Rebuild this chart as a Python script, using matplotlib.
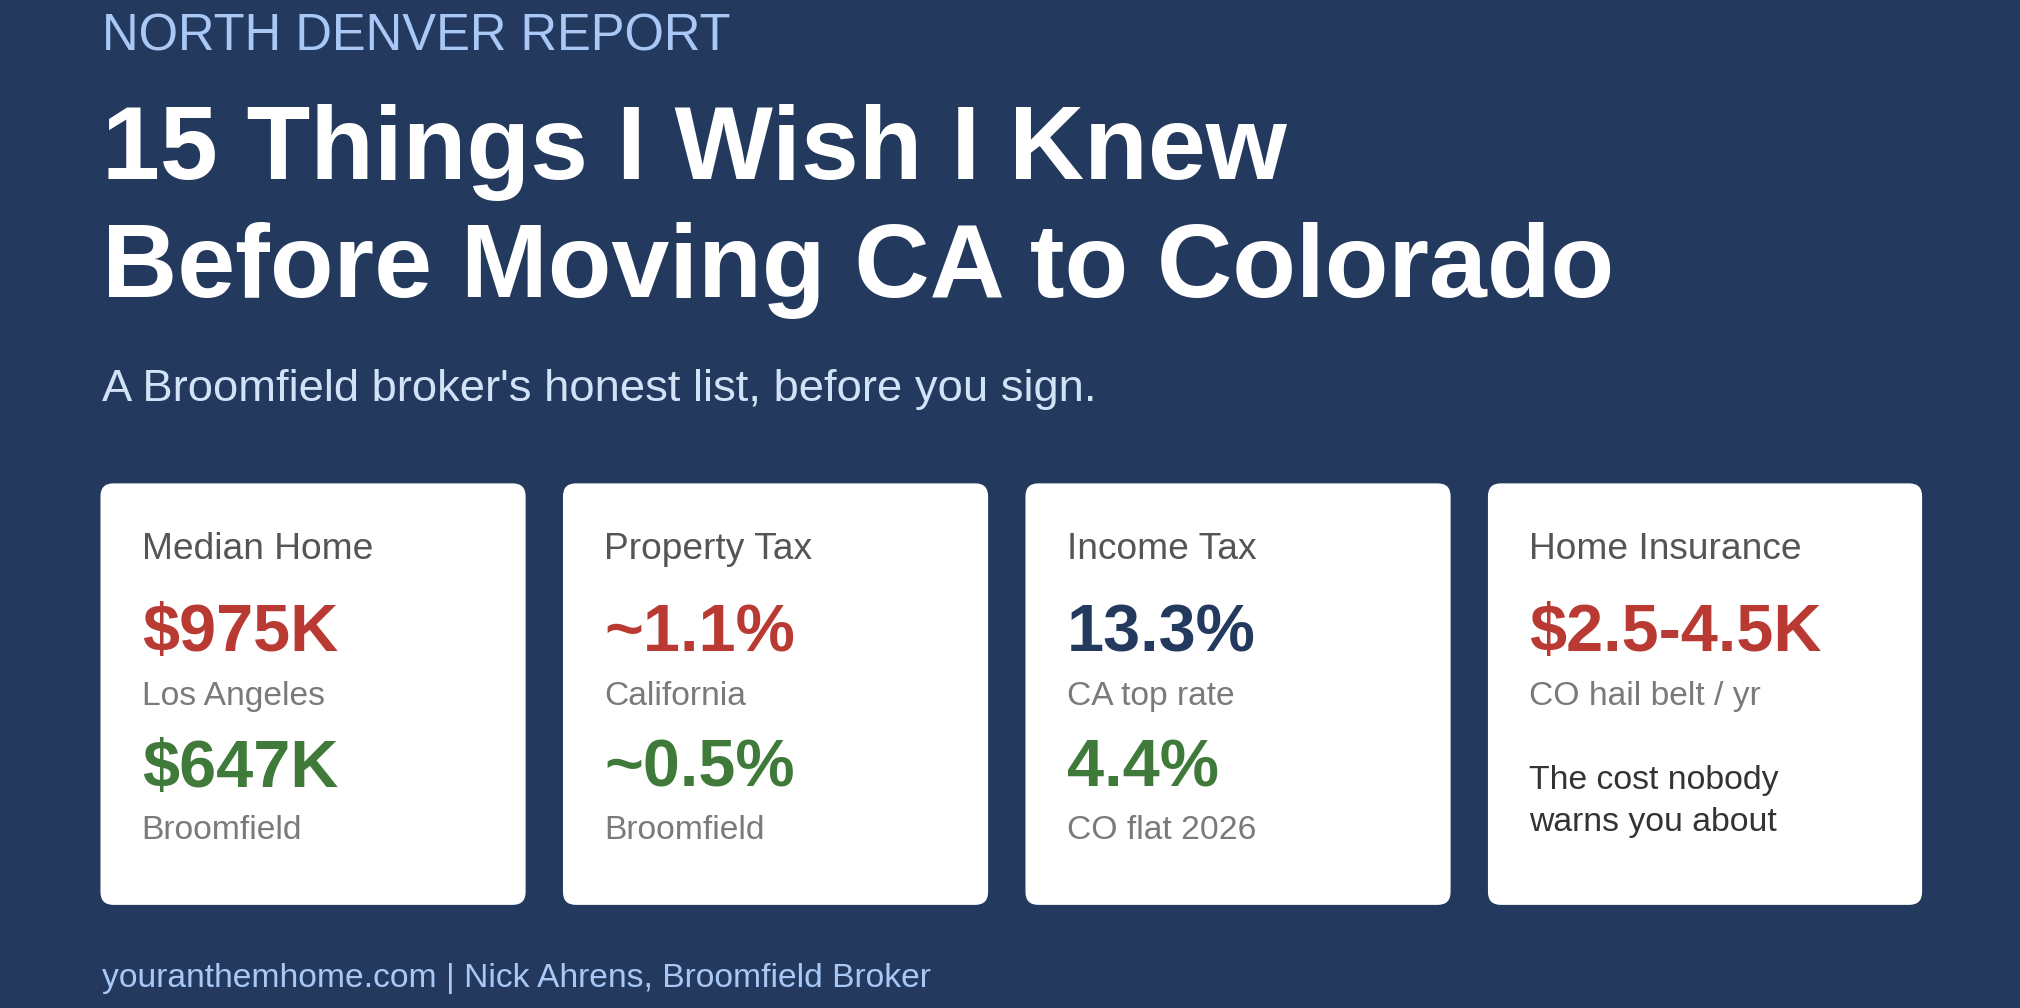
import matplotlib
matplotlib.use("Agg")
import matplotlib.pyplot as plt
from matplotlib.patches import FancyBboxPatch

plt.rcParams['font.family'] = ['Liberation Sans', 'DejaVu Sans']

BG = '#233a5e'
RED = '#b83a32'
GREEN = '#3f7a3a'
NAVY = '#233a5e'

header = "NORTH DENVER REPORT"
title_lines = ["15 Things I Wish I Knew", "Before Moving CA to Colorado"]
subtitle = "A Broomfield broker's honest list, before you sign."
footer = "youranthemhome.com | Nick Ahrens, Broomfield Broker"

card_titles = ["Median Home", "Property Tax", "Income Tax", "Home Insurance"]
card_val1 = ["$975K", "~1.1%", "13.3%", "$2.5-4.5K"]
card_lab1 = ["Los Angeles", "California", "CA top rate", "CO hail belt / yr"]
card_val2 = ["$647K", "~0.5%", "4.4%", None]
card_lab2 = ["Broomfield", "Broomfield", "CO flat 2026", None]
card_note = [None, None, None, "The cost nobody\nwarns you about"]
val1_colors = [RED, RED, NAVY, RED]
val2_colors = [GREEN, GREEN, GREEN, None]

W, H = 1568, 782
fig = plt.figure(figsize=(20.2, 10.08), dpi=100, facecolor=BG)
ax = fig.add_axes([0, 0, 1, 1])
ax.set_xlim(0, W); ax.set_ylim(H, 0); ax.axis('off')
ax.set_facecolor(BG)

ax.text(79, 29, header, color='#a9c8f5', fontsize=36.5, va='center', ha='left')
ax.text(79, 118, title_lines[0], color='white', fontsize=75, fontweight='bold', va='center')
ax.text(79, 210, title_lines[1], color='white', fontsize=75, fontweight='bold', va='center')
ax.text(79, 302, subtitle, color='#d2e2f7', fontsize=32.7, va='center')

xs = [78, 437, 796, 1155]
ws = [330, 330, 330, 337]
y0, h = 375, 327
for i in range(4):
    ax.add_patch(FancyBboxPatch((xs[i], y0), ws[i], h,
                                boxstyle="round,pad=0,rounding_size=10",
                                fc='white', ec='none', mutation_aspect=1))
    x = xs[i] + 32
    ax.text(x, 426, card_titles[i], color='#555555', fontsize=26.7, va='center')
    ax.text(x, 492, card_val1[i], color=val1_colors[i], fontsize=48, fontweight='bold', va='center')
    ax.text(x, 540, card_lab1[i], color='#7a7a7a', fontsize=24.2, va='center')
    if card_val2[i]:
        ax.text(x, 597, card_val2[i], color=val2_colors[i], fontsize=48, fontweight='bold', va='center')
        ax.text(x, 644, card_lab2[i], color='#7a7a7a', fontsize=24.2, va='center')
    if card_note[i]:
        ax.text(x, 622, card_note[i], color='#333333', fontsize=24.3, va='center', linespacing=1.45)

ax.text(79, 759, footer, color='#a9c8f5', fontsize=24.2, va='center')

fig.savefig("out.png", dpi=100, facecolor=BG)
